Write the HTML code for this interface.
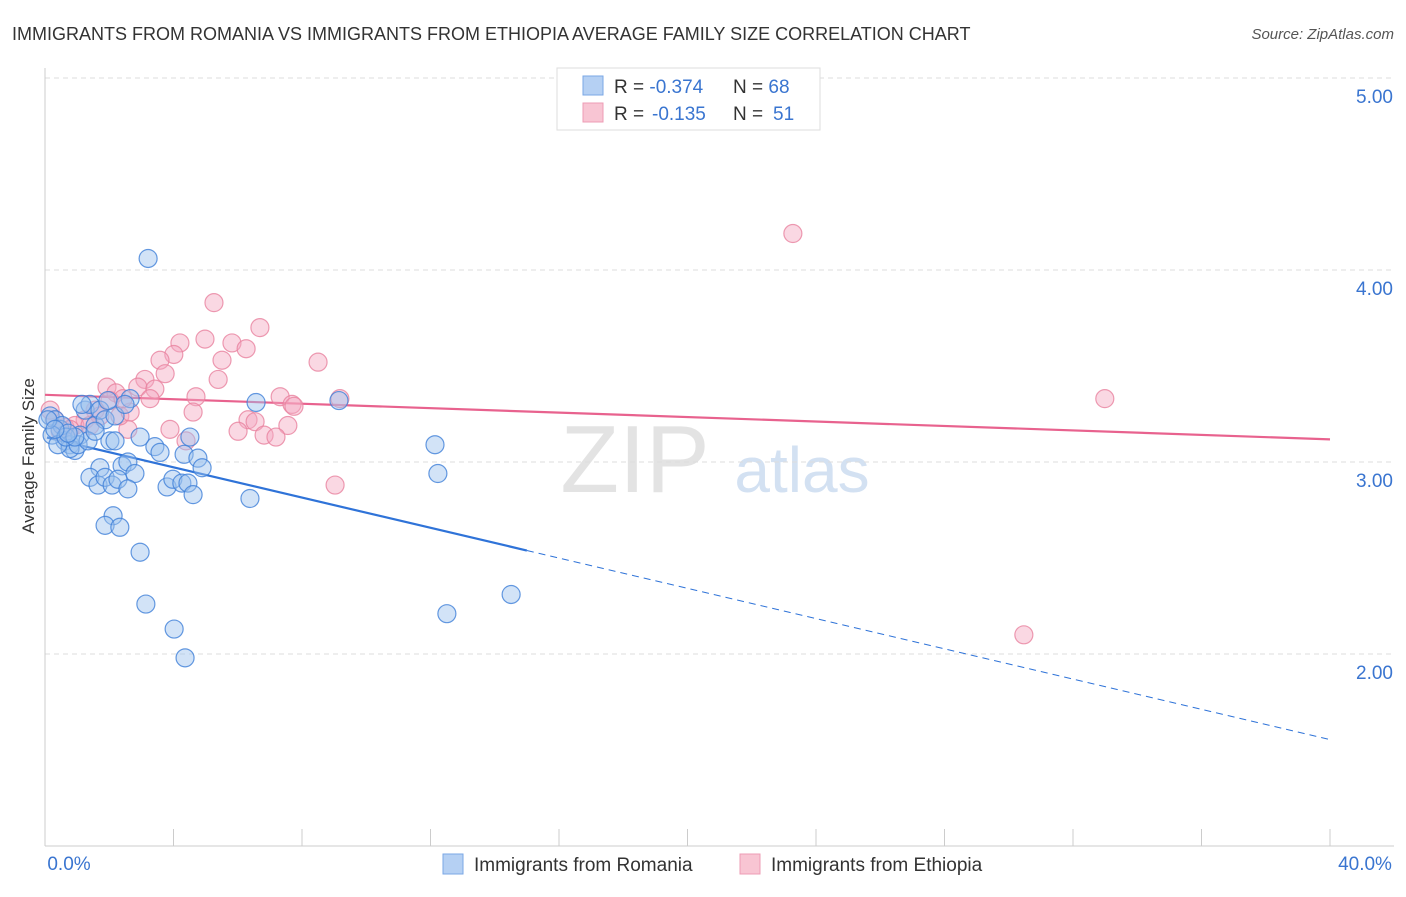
<!DOCTYPE html>
<html><head><meta charset="utf-8"><style>
body{margin:0;background:#fff;font-family:"Liberation Sans",sans-serif;}
svg text{font-family:"Liberation Sans",sans-serif;}
</style></head><body>
<svg id="chart" width="1406" height="892" xmlns="http://www.w3.org/2000/svg">
<text x="12" y="40" font-size="18" fill="#333">IMMIGRANTS FROM ROMANIA VS IMMIGRANTS FROM ETHIOPIA AVERAGE FAMILY SIZE CORRELATION CHART</text>
<text x="1394" y="39" font-size="15" fill="#555" font-style="italic" text-anchor="end">Source: ZipAtlas.com</text>
<text x="34" y="456" font-size="17" fill="#333" text-anchor="middle" transform="rotate(-90 34 456)">Average Family Size</text>
<g>
<text x="635" y="492" font-size="96" fill="#ddd" text-anchor="middle" font-family="Liberation Serif" opacity="0.8">ZIP</text>
<text x="802" y="492" font-size="64" fill="#c9daf0" text-anchor="middle" opacity="0.8">atlas</text>
</g>
<g id="grid"></g><g id="axes"></g><g id="lines"></g><g id="pts"></g>
<g>
<rect x="557" y="68" width="263" height="62" fill="#fff" stroke="#ddd"/>
<rect x="583" y="76" width="20" height="19" fill="#b5d0f3" stroke="#7aa7e6"/>
<rect x="583" y="103" width="20" height="19" fill="#f8c5d3" stroke="#ee9cb4"/>
<text x="614" y="93" font-size="19" fill="#333">R = <tspan fill="#3a75d0">-0.374</tspan><tspan x="733">N = </tspan><tspan fill="#3a75d0">68</tspan></text>
<text x="614" y="120" font-size="19" fill="#333">R = <tspan fill="#3a75d0" x="652">-0.135</tspan><tspan x="733">N = </tspan><tspan fill="#3a75d0" x="773">51</tspan></text>
</g>
<g>
<rect x="443" y="854" width="20" height="20" fill="#b5d0f3" stroke="#7aa7e6"/>
<text x="474" y="871" font-size="19" fill="#333">Immigrants from Romania</text></g>
<g>
<rect x="740" y="854" width="20" height="20" fill="#f8c5d3" stroke="#ee9cb4"/>
<text x="771" y="871" font-size="19" fill="#333">Immigrants from Ethiopia</text></g>
</svg>
<script>
const xTicks=[0,40];
const xTickLabels=["0.0%","40.0%"];
const yTicks=[2,3,4,5];
const yTickLabels=["2.00","3.00","4.00","5.00"];
const romaniaX=[3.21,0.16,0.31,0.47,0.62,0.78,0.93,1.09,1.25,1.40,1.56,1.71,1.87,2.02,2.18,2.40,2.58,2.80,1.71,1.40,1.65,1.87,2.09,2.27,2.58,2.12,1.87,2.33,2.96,3.14,4.02,4.36,3.42,3.58,3.80,3.98,4.26,4.45,4.61,4.33,4.76,4.89,4.51,2.96,2.65,2.49,6.57,6.38,9.15,12.14,12.23,12.51,14.51,0.78,1.03,0.53,0.22,0.40,0.09,0.65,1.34,1.56,2.18,0.93,1.96,1.15,0.72,0.31];
const romaniaY=[4.06,3.24,3.22,3.17,3.11,3.09,3.06,3.14,3.27,3.30,3.19,3.27,3.22,3.11,3.24,2.98,3.00,2.94,2.97,2.92,2.88,2.92,2.88,2.91,2.86,2.72,2.67,2.66,2.53,2.26,2.13,1.98,3.08,3.05,2.87,2.91,2.89,2.89,2.83,3.04,3.02,2.97,3.13,3.13,3.33,3.30,3.31,2.81,3.32,3.09,2.94,2.21,2.31,3.07,3.09,3.19,3.14,3.09,3.22,3.13,3.11,3.16,3.11,3.13,3.32,3.30,3.15,3.17];
const ethiopiaX=[23.28,30.47,32.99,5.26,6.69,4.98,4.20,5.82,6.26,4.01,3.58,5.51,8.50,3.74,5.39,3.11,1.93,2.89,2.21,3.42,4.70,3.27,7.32,9.18,7.69,7.75,4.61,6.32,6.54,7.56,6.01,3.89,6.82,7.19,4.39,9.03,2.58,2.33,2.02,1.56,1.25,0.93,0.62,0.31,0.16,0.47,0.78,1.71,1.40,2.65,2.43];
const ethiopiaY=[4.19,2.10,3.33,3.83,3.70,3.64,3.62,3.62,3.59,3.56,3.53,3.53,3.52,3.46,3.43,3.43,3.39,3.39,3.36,3.38,3.34,3.33,3.34,3.33,3.30,3.29,3.26,3.22,3.21,3.19,3.16,3.17,3.14,3.13,3.11,2.88,3.17,3.24,3.32,3.27,3.22,3.19,3.18,3.22,3.27,3.16,3.17,3.24,3.19,3.26,3.33];
const romaniaFit=[3.13,-0.0394];
const ethiopiaFit=[3.35,-0.0058];
const NS="http://www.w3.org/2000/svg";
const X=v=>45+v*1285/40, Y=v=>78+(5-v)*192;
function mk(t,a,p){const e=document.createElementNS(NS,t);for(const k in a)e.setAttribute(k,a[k]);p.appendChild(e);return e;}
const grid=document.getElementById('grid'),axes=document.getElementById('axes');
yTicks.forEach((t,i)=>{
 const l=mk('line',{x1:45,x2:1394,y1:Y(t),y2:Y(t),stroke:'#ddd','stroke-dasharray':'5,4'},grid);
 
 
 const tx=mk('text',{x:1393,y:Y(t)+25,'font-size':19,fill:'#3a75d0','text-anchor':'end'},axes);
 tx.textContent=yTickLabels[i];
 
 
});
const ax=mk('line',{x1:45,x2:45,y1:68,y2:846,stroke:'#ccc'},axes);


const bx=mk('line',{x1:45,x2:1394,y1:846,y2:846,stroke:'#ccc'},axes);


for(let v=0;v<=40;v+=4){const tk=mk('line',{x1:X(v),x2:X(v),y1:829,y2:846,stroke:'#ccc'},axes);
 
 }
xTicks.forEach((t,i)=>{const tx=mk('text',{x:X(t)+(i?35:24),y:870,'font-size':19,fill:'#3a75d0','text-anchor':'middle'},axes);
 tx.textContent=xTickLabels[i];
 
 });
const pts=document.getElementById('pts');
function draw(xs,ys,fill,stroke,name){xs.forEach((x,i)=>{const c=mk('circle',{cx:X(x),cy:Y(ys[i]),r:9,fill:fill,'fill-opacity':0.45,stroke:stroke,'stroke-width':1.2,'stroke-opacity':0.8},pts);
 
 });}
draw(ethiopiaX,ethiopiaY,'#f4a9c0','#e8829f','ethiopia-point');
draw(romaniaX,romaniaY,'#9cc0ee','#3f7fd8','romania-point');
const lines=document.getElementById('lines');
const f=(p,x)=>p[0]+p[1]*x;
const r1=mk('line',{x1:X(0.06),y1:Y(f(romaniaFit,0.06)),x2:X(15),y2:Y(f(romaniaFit,15)),stroke:'#2f73d8','stroke-width':2.2},lines);


const r2=mk('line',{x1:X(15),y1:Y(f(romaniaFit,15)),x2:X(40),y2:Y(f(romaniaFit,40)),stroke:'#2f73d8','stroke-width':1,'stroke-dasharray':'7,5'},lines);


const e1=mk('line',{x1:X(0),y1:Y(f(ethiopiaFit,0)),x2:X(40),y2:Y(f(ethiopiaFit,40)),stroke:'#e8628e','stroke-width':2.2},lines);


</script>
</body></html>
